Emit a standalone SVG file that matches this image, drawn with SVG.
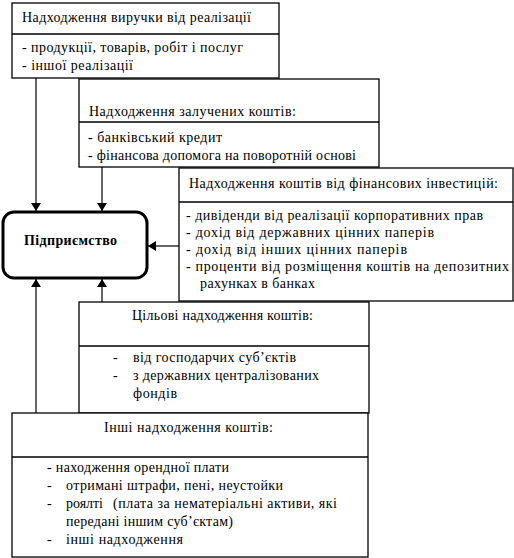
<svg xmlns="http://www.w3.org/2000/svg" width="514" height="558" viewBox="0 0 514 558">
<style>
.box{fill:#fff;stroke:#000;stroke-width:1.3}
.div{stroke:#000;stroke-width:1.3}
.ln{stroke:#000;stroke-width:1.2;fill:none}
text{font-family:'Liberation Serif','Times New Roman',serif;font-size:14px;fill:#000}
</style>
<defs>
<marker id="ah" markerWidth="8" markerHeight="10" refX="8" refY="5" orient="auto" markerUnits="userSpaceOnUse" viewBox="0 0 8 10">
<path d="M0,0 L8,5 L0,10 Z" fill="#000"/>
</marker>
</defs>
<g id="connectors">
<line class="ln" x1="36" y1="78" x2="36" y2="211" marker-end="url(#ah)"/>
<line class="ln" x1="102" y1="167" x2="102" y2="211" marker-end="url(#ah)"/>
<line class="ln" x1="179" y1="246" x2="148" y2="246" marker-end="url(#ah)"/>
<line class="ln" x1="102" y1="302" x2="102" y2="279" marker-end="url(#ah)"/>
<line class="ln" x1="36" y1="413" x2="36" y2="279" marker-end="url(#ah)"/>
</g>
<g id="box1">
<rect class="box" x="12" y="3" width="267" height="75"/>
<line class="div" x1="12" y1="34" x2="279" y2="34"/>
<text x="22" y="22" textLength="229" lengthAdjust="spacing">Надходження виручки від реалізації</text>
<text x="22" y="52" textLength="221" lengthAdjust="spacing">-  продукції, товарів, робіт і послуг</text>
<text x="22" y="70" textLength="111" lengthAdjust="spacing">- іншої реалізації</text>
</g>
<g id="box2">
<rect class="box" x="79" y="79" width="300" height="88"/>
<line class="div" x1="79" y1="122" x2="379" y2="122"/>
<text x="89" y="116" textLength="207" lengthAdjust="spacing">Надходження залучених коштів:</text>
<text x="88" y="142" textLength="134" lengthAdjust="spacing">- банківський кредит</text>
<text x="88" y="160" textLength="268" lengthAdjust="spacing">- фінансова допомога на поворотній основі</text>
</g>
<g id="box3">
<rect class="box" x="179" y="168" width="334" height="133"/>
<line class="div" x1="179" y1="202" x2="513" y2="202"/>
<text x="189" y="188" textLength="309" lengthAdjust="spacing">Надходження коштів від фінансових інвестицій:</text>
<text x="186" y="220" textLength="297" lengthAdjust="spacing">- дивіденди від реалізації корпоративних прав</text>
<text x="186" y="237" textLength="248" lengthAdjust="spacing">- дохід від державних цінних паперів</text>
<text x="186" y="254" textLength="221" lengthAdjust="spacing">- дохід від інших цінних паперів</text>
<text x="186" y="271" textLength="323" lengthAdjust="spacing">- проценти від розміщення коштів на депозитних</text>
<text x="200" y="288" textLength="115" lengthAdjust="spacing">рахунках в банках</text>
</g>
<g id="enterprise">
<rect x="3" y="212" width="144" height="66" rx="11" ry="11" fill="#fff" stroke="#000" stroke-width="3"/>
<text x="24" y="245" font-weight="bold" textLength="93" lengthAdjust="spacing">Підприємство</text>
</g>
<g id="box4">
<rect class="box" x="79" y="302" width="290" height="111"/>
<line class="div" x1="79" y1="346" x2="369" y2="346"/>
<text x="132" y="320" textLength="181" lengthAdjust="spacing">Цільові надходження коштів:</text>
<text x="113" y="362">-</text>
<text x="133" y="362" textLength="163" lengthAdjust="spacing">від господарчих суб’єктів</text>
<text x="113" y="380">-</text>
<text x="133" y="380" textLength="186" lengthAdjust="spacing">з державних централізованих</text>
<text x="133" y="398" textLength="44" lengthAdjust="spacing">фондів</text>
</g>
<g id="box5">
<rect class="box" x="12" y="413" width="356" height="144"/>
<line class="div" x1="12" y1="457" x2="368" y2="457"/>
<text x="104" y="432" textLength="169" lengthAdjust="spacing">Інші надходження коштів:</text>
<text x="47" y="472" textLength="182" lengthAdjust="spacing">- находження орендної плати</text>
<text x="47" y="490">-</text>
<text x="66" y="490" textLength="217" lengthAdjust="spacing">отримані штрафи, пені, неустойки</text>
<text x="47" y="508">-</text>
<text x="66" y="508" textLength="37" lengthAdjust="spacing">роялті</text>
<text x="113" y="508" textLength="224" lengthAdjust="spacing">(плата за нематеріальні активи, які</text>
<text x="66" y="526" textLength="167" lengthAdjust="spacing">передані іншим суб’єктам)</text>
<text x="47" y="544">-</text>
<text x="66" y="544" textLength="117" lengthAdjust="spacing">інші надходження</text>
</g>
</svg>
